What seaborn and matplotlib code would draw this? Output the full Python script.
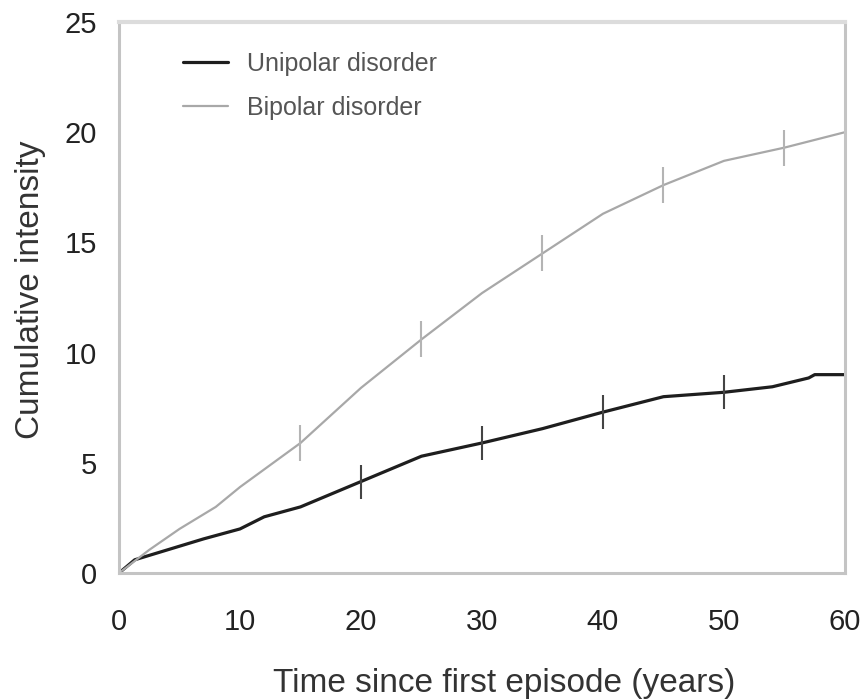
"""
Cumulative intensity of episodes for unipolar and bipolar disorder.
"""
import matplotlib
matplotlib.use("Agg")
import matplotlib.pyplot as plt
import seaborn as sns
import pandas as pd

# Curve (years since first episode, cumulative intensity)
unipolar_years = [0, 1.3, 4, 7, 10, 12, 15, 20, 25, 30, 35, 40, 45, 50, 54, 57, 57.5, 60]
unipolar_values = [0, 0.6, 1.05, 1.55, 2.0, 2.55, 3.0, 4.15, 5.3, 5.9, 6.55, 7.3, 8.0, 8.2, 8.45, 8.85, 9.0, 9.0]

bipolar_years = [0, 2.5, 5, 8, 10, 15, 20, 25, 30, 35, 40, 45, 50, 55, 60]
bipolar_values = [0, 1.05, 2.0, 3.0, 3.9, 5.9, 8.4, 10.6, 12.7, 14.5, 16.3, 17.6, 18.7, 19.3, 20.0]

# Censoring marks on each curve
unipolar_marks_x = [20, 30, 40, 50]
unipolar_marks_y = [4.15, 5.9, 7.3, 8.2]
bipolar_marks_x = [15, 25, 35, 45, 55]
bipolar_marks_y = [5.9, 10.6, 14.5, 17.6, 19.3]

x_ticks = [0, 10, 20, 30, 40, 50, 60]
y_ticks = [0, 5, 10, 15, 20, 25]

FONT = ["Liberation Sans", "DejaVu Sans"]


def main():
    sns.set_style("white")
    plt.rcParams["font.family"] = FONT

    uni = pd.DataFrame({"years": unipolar_years, "value": unipolar_values})
    bi = pd.DataFrame({"years": bipolar_years, "value": bipolar_values})

    fig = plt.figure(figsize=(8.61, 7.0), dpi=100)
    ax = fig.add_axes([0.1382, 0.1814, 0.8432, 0.7872])

    sns.lineplot(data=uni, x="years", y="value", color="#1e1e1e", linewidth=2.3,
                 label="Unipolar disorder", ax=ax)
    sns.lineplot(data=bi, x="years", y="value", color="#a8a8a8", linewidth=1.6,
                 label="Bipolar disorder", ax=ax)

    # censoring ticks
    ax.plot(unipolar_marks_x, unipolar_marks_y, ls="none", marker="|",
            ms=25, mew=1.5, color="#444444")
    ax.plot(bipolar_marks_x, bipolar_marks_y, ls="none", marker="|",
            ms=26, mew=1.5, color="#b4b4b4")

    ax.set_xlim(0, 60)
    ax.set_ylim(0, 25)
    ax.set_xticks(x_ticks)
    ax.set_yticks(y_ticks)
    ax.tick_params(axis="both", length=0, labelsize=21, colors="#222222")
    ax.tick_params(axis="x", pad=25)
    ax.tick_params(axis="y", pad=16)

    ax.set_xlabel("Time since first episode (years)", fontsize=24,
                  color="#333333")
    ax.set_ylabel("Cumulative intensity", fontsize=24, color="#333333")
    ax.xaxis.set_label_coords(0.53, -0.172)
    ax.yaxis.set_label_coords(-0.101, 0.514)

    for side in ["left", "bottom", "right"]:
        ax.spines[side].set_color("#c4c4c4")
        ax.spines[side].set_linewidth(2.2)
    ax.spines["top"].set_color("#dcdcdc")
    ax.spines["top"].set_linewidth(3)

    leg = ax.legend(loc="upper left", bbox_to_anchor=(0.088, 0.946),
                    frameon=False, fontsize=18, handlelength=1.8,
                    labelspacing=0.8, handletextpad=0.76,
                    borderpad=0, borderaxespad=0)
    for t in leg.get_texts():
        t.set_color("#555555")

    plt.savefig("out.png", dpi=100)
    plt.close()


if __name__ == "__main__":
    main()
